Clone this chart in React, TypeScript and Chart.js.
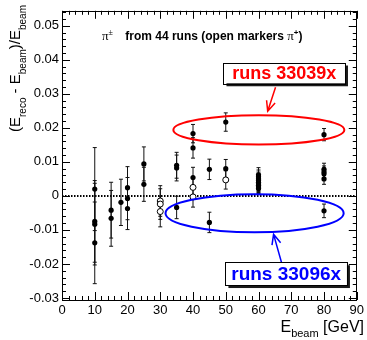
import { useEffect, useRef } from "react";
import { Chart, registerables } from "chart.js";

Chart.register(...registerables);

// Beam energies (GeV), relative response and its uncertainty, closed markers (pi±)
const filledEnergy = [
  10, 10, 10, 10, 15, 15, 18, 20, 20, 20, 25, 25, 35, 35, 35, 40, 40, 40, 45, 45, 50, 50,
  60, 60, 60, 60, 60, 60, 60, 60, 60, 80, 80, 80, 80, 80, 80,
];
const filledResponse = [
  0.002, -0.0075, -0.0083, -0.0138, -0.0042, -0.0066, -0.0019, 0.0024, -0.0008, -0.0037,
  0.0094, 0.0034, 0.009, 0.0082, -0.0034, 0.0183, 0.0141, 0.0054, 0.0078, -0.0078, 0.0217,
  0.008, 0.0062, 0.0056, 0.005, 0.0045, 0.004, 0.0035, 0.0031, 0.0026, 0.0022, 0.018, 0.0078,
  0.0071, 0.0065, 0.005, -0.0044,
];
const filledError = [
  0.0122, 0.012, 0.012, 0.012, 0.0082, 0.0082, 0.0068, 0.0062, 0.0062, 0.0062, 0.005, 0.005,
  0.0038, 0.0038, 0.0033, 0.0027, 0.003, 0.003, 0.003, 0.003, 0.0027, 0.0027, 0.0021, 0.002,
  0.002, 0.0019, 0.0019, 0.0018, 0.0018, 0.0016, 0.0015, 0.0018, 0.0018, 0.0017, 0.0017,
  0.0016, 0.002,
];

// Open markers (pi+ only)
const openEnergy = [30, 30, 30, 40, 40, 50];
const openResponse = [-0.0015, -0.0024, -0.0046, 0.0025, -0.0003, 0.0047];
const openError = [0.0045, 0.0045, 0.0045, 0.003, 0.003, 0.0027];

// Axis ranges and tick steps
const xMin = 0;
const xMax = 90;
const xMajor = 10;
const xMinor = 2;
const yMin = -0.0306;
const yMax = 0.0544;
const yMajor = 0.01;
const yMinor = 0.002;

// Run-group labels
const redLabel = "runs 33039x";
const blueLabel = "runs 33096x";

const SANS = '"Liberation Sans", Arial, Helvetica, sans-serif';
const SERIF = '"Liberation Serif", "Times New Roman", serif';

type Seg = { t: string; font: string; dy?: number };

function drawRich(ctx: CanvasRenderingContext2D, segs: Seg[], x: number, y: number) {
  let cx = x;
  for (const s of segs) {
    ctx.font = s.font;
    ctx.fillText(s.t, cx, y + (s.dy || 0));
    cx += ctx.measureText(s.t).width;
  }
  return cx;
}

function richWidth(ctx: CanvasRenderingContext2D, segs: Seg[]) {
  let w = 0;
  for (const s of segs) {
    ctx.font = s.font;
    w += ctx.measureText(s.t).width;
  }
  return w;
}

function drawArrow(
  ctx: CanvasRenderingContext2D,
  x1: number,
  y1: number,
  x2: number,
  y2: number,
  color: string
) {
  const ang = Math.atan2(y2 - y1, x2 - x1);
  const len = 11;
  const spread = 0.42;
  ctx.save();
  ctx.strokeStyle = color;
  ctx.lineWidth = 1.5;
  ctx.beginPath();
  ctx.moveTo(x1, y1);
  ctx.lineTo(x2, y2);
  ctx.moveTo(x2 - len * Math.cos(ang - spread), y2 - len * Math.sin(ang - spread));
  ctx.lineTo(x2, y2);
  ctx.lineTo(x2 - len * Math.cos(ang + spread), y2 - len * Math.sin(ang + spread));
  ctx.stroke();
  ctx.restore();
}

function drawLabelBox(
  ctx: CanvasRenderingContext2D,
  x1: number,
  y1: number,
  x2: number,
  y2: number,
  text: string,
  color: string,
  size: number
) {
  ctx.save();
  ctx.fillStyle = "#1a1a1a";
  ctx.fillRect(x1 + 3, y1 + 3, x2 - x1, y2 - y1);
  ctx.fillStyle = "#fff";
  ctx.fillRect(x1, y1, x2 - x1, y2 - y1);
  ctx.strokeStyle = "#000";
  ctx.lineWidth = 1;
  ctx.strokeRect(Math.round(x1) + 0.5, Math.round(y1) + 0.5, Math.round(x2 - x1), Math.round(y2 - y1));
  ctx.fillStyle = color;
  ctx.font = `bold ${size}px ${SANS}`;
  ctx.textAlign = "center";
  ctx.textBaseline = "middle";
  ctx.fillText(text, (x1 + x2) / 2, (y1 + y2) / 2 + 1);
  ctx.restore();
}

const errorBarPlugin = {
  id: "errorBars",
  beforeDatasetsDraw(chart: any) {
    const { ctx, scales } = chart;
    const xs = scales.x;
    const ys = scales.y;
    const area = chart.chartArea;
    ctx.save();
    // zero reference line
    ctx.strokeStyle = "#000";
    ctx.lineWidth = 2;
    ctx.setLineDash([1.5, 1.5]);
    const y0 = ys.getPixelForValue(0);
    ctx.beginPath();
    ctx.moveTo(area.left, y0);
    ctx.lineTo(area.right, y0);
    ctx.stroke();
    ctx.setLineDash([]);

    ctx.lineWidth = 1;
    ctx.strokeStyle = "#111";
    const bars = (E: number[], R: number[], S: number[]) => {
      E.forEach((e, i) => {
        const px = xs.getPixelForValue(e);
        const yt = ys.getPixelForValue(R[i] + S[i]);
        const yb = ys.getPixelForValue(R[i] - S[i]);
        ctx.beginPath();
        ctx.moveTo(px, yt);
        ctx.lineTo(px, yb);
        ctx.moveTo(px - 2, yt);
        ctx.lineTo(px + 2, yt);
        ctx.moveTo(px - 2, yb);
        ctx.lineTo(px + 2, yb);
        ctx.stroke();
      });
    };
    bars(filledEnergy, filledResponse, filledError);
    bars(openEnergy, openResponse, openError);
    ctx.restore();
  },
};

const framePlugin = {
  id: "frameAndNotes",
  afterDraw(chart: any) {
    const { ctx, scales } = chart;
    const xs = scales.x;
    const ys = scales.y;
    const { left, right, top, bottom } = chart.chartArea;
    const px = (v: number) => xs.getPixelForValue(v);
    const py = (v: number) => ys.getPixelForValue(v);

    ctx.save();
    // frame
    ctx.strokeStyle = "#000";
    ctx.lineWidth = 1;
    ctx.strokeRect(Math.round(left) + 0.5, Math.round(top) + 0.5, Math.round(right - left) - 1, Math.round(bottom - top));

    // inward ticks on all four sides
    ctx.beginPath();
    for (let v = xMin; v <= xMax + 1e-9; v += xMinor) {
      const major = Math.abs(v / xMajor - Math.round(v / xMajor)) < 1e-6;
      const len = major ? 8 : 4;
      const x = Math.round(px(v)) + 0.5;
      ctx.moveTo(x, bottom);
      ctx.lineTo(x, bottom - len);
      ctx.moveTo(x, top);
      ctx.lineTo(x, top + len);
    }
    const n = Math.round((yMax - yMin) / yMinor) + 1;
    const start = Math.ceil(yMin / yMinor - 1e-6);
    for (let k = start; k * yMinor <= yMax + 1e-9 && k < start + n; k++) {
      const v = k * yMinor;
      const major = Math.abs(v / yMajor - Math.round(v / yMajor)) < 1e-6;
      const len = major ? 8 : 4;
      const y = Math.round(py(v)) + 0.5;
      ctx.moveTo(left, y);
      ctx.lineTo(left + len, y);
      ctx.moveTo(right, y);
      ctx.lineTo(right - len, y);
    }
    ctx.stroke();

    // ellipses around the two run groups
    ctx.lineWidth = 2;
    ctx.strokeStyle = "#ff0000";
    ctx.beginPath();
    ctx.ellipse(px(60.1), py(0.0194), px(60.1 + 26.1) - px(60.1), py(0.0194) - py(0.0237), 0, 0, Math.PI * 2);
    ctx.stroke();
    ctx.strokeStyle = "#0000ff";
    ctx.beginPath();
    ctx.ellipse(px(58.8), py(-0.0051), px(58.8 + 27.2) - px(58.8), py(-0.0051) - py(0.0005), 0, 0, Math.PI * 2);
    ctx.stroke();

    drawArrow(ctx, px(65.2), py(0.0319), px(62.8), py(0.0249), "#ff0000");
    drawArrow(ctx, px(67.0), py(-0.0195), px(64.6), py(-0.0113), "#0000ff");

    drawLabelBox(ctx, px(49.3), py(0.0392), px(86.4), py(0.0331), redLabel, "#ff0000", 18);
    drawLabelBox(ctx, px(49.9), py(-0.0195), px(87.0), py(-0.0262), blueLabel, "#0000ff", 19);

    // header line
    ctx.fillStyle = "#000";
    ctx.textBaseline = "alphabetic";
    ctx.textAlign = "left";
    const hy = py(0.0471) + 4;
    drawRich(ctx, [
      { t: "\u03c0", font: `13px ${SERIF}` },
      { t: "\u00b1", font: `8px ${SERIF}`, dy: -5 },
    ], px(12.2), hy);
    drawRich(ctx, [
      { t: "from 44 runs (open markers ", font: `bold 12px ${SANS}` },
      { t: "\u03c0", font: `13px ${SERIF}` },
      { t: "+", font: `bold 8px ${SANS}`, dy: -5 },
      { t: ")", font: `bold 12px ${SANS}` },
    ], px(19.3), hy);

    // x-axis title, right-aligned to the frame
    const xt: Seg[] = [
      { t: "E", font: `16px ${SANS}` },
      { t: "beam", font: `11px ${SANS}`, dy: 5 },
      { t: " [GeV]", font: `16px ${SANS}` },
    ];
    drawRich(ctx, xt, 364 - richWidth(ctx, xt), 332);

    // y-axis title, rotated
    const yt: Seg[] = [
      { t: "(E", font: `15px ${SANS}` },
      { t: "reco", font: `10px ${SANS}`, dy: 6 },
      { t: " - E", font: `15px ${SANS}` },
      { t: "beam", font: `10px ${SANS}`, dy: 6 },
      { t: ")/E", font: `15px ${SANS}` },
      { t: "beam", font: `10px ${SANS}`, dy: 6 },
    ];
    ctx.translate(20, 132);
    ctx.rotate(-Math.PI / 2);
    drawRich(ctx, yt, 0, 0);
    ctx.restore();
  },
};

export default function App() {
  const ref = useRef<HTMLCanvasElement | null>(null);

  useEffect(() => {
    if (!ref.current) return;
    const chart = new Chart(ref.current, {
      type: "scatter",
      data: {
        datasets: [
          {
            label: "pi+-",
            data: filledEnergy.map((e, i) => ({ x: e, y: filledResponse[i] })),
            pointStyle: "circle",
            pointRadius: 2.6,
            pointBackgroundColor: "#000",
            pointBorderColor: "#000",
            pointBorderWidth: 0,
          },
          {
            label: "pi+",
            data: openEnergy.map((e, i) => ({ x: e, y: openResponse[i] })),
            pointStyle: "circle",
            pointRadius: 3,
            pointBackgroundColor: "#fff",
            pointBorderColor: "#000",
            pointBorderWidth: 1,
          },
        ],
      },
      options: {
        responsive: false,
        animation: false,
        devicePixelRatio: 1,
        layout: { padding: { top: 9, right: 4, left: 0, bottom: 0 } },
        plugins: { legend: { display: false }, tooltip: { enabled: false } },
        scales: {
          x: {
            type: "linear",
            min: xMin,
            max: xMax,
            grid: { display: false, drawTicks: false },
            border: { display: false },
            afterFit: (s: any) => {
              s.height = 40;
            },
            ticks: {
              stepSize: xMajor,
              autoSkip: false,
              maxRotation: 0,
              padding: 3,
              color: "#000",
              font: { family: SANS, size: 13 },
            },
          },
          y: {
            type: "linear",
            min: yMin,
            max: yMax,
            grid: { display: false, drawTicks: false },
            border: { display: false },
            afterFit: (s: any) => {
              s.width = 62;
            },
            ticks: {
              stepSize: yMajor,
              includeBounds: false,
              autoSkip: false,
              padding: 3,
              color: "#000",
              font: { family: SANS, size: 13 },
              callback: (v: any) => {
                const n = Number(v);
                return Math.abs(n) < 1e-9 ? "0" : n.toFixed(2);
              },
            },
          },
        },
      },
      plugins: [errorBarPlugin, framePlugin],
    });
    return () => chart.destroy();
  }, []);

  return (
    <div style={{ position: "absolute", left: 0, top: 0, width: 367, height: 340, background: "#fff" }}>
      <canvas ref={ref} width={367} height={340} style={{ width: 367, height: 340, display: "block" }} />
    </div>
  );
}
